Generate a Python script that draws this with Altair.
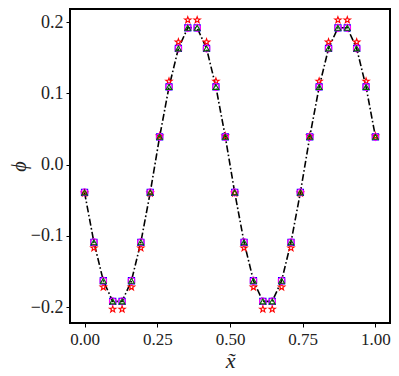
import altair as alt
import pandas as pd

# one period of the solution (16 points), two periods shown
period_base = [-0.039, -0.109, -0.163, -0.192, -0.192, -0.163, -0.109, -0.039,
               0.039, 0.109, 0.163, 0.192, 0.192, 0.163, 0.109, 0.039]
period_star = [-0.040, -0.117, -0.172, -0.203, -0.203, -0.172, -0.117, -0.040,
               0.040, 0.117, 0.172, 0.203, 0.203, 0.172, 0.117, 0.040]

x_vals = [i / 31 for i in range(32)]
line_vals = period_base + period_base
square_vals = period_base + period_base
hex_vals = period_base + period_base
tri_vals = period_base + period_base
star_vals = period_star + period_star

x_ticks = [0.0, 0.25, 0.5, 0.75, 1.0]
y_ticks = [-0.2, -0.1, 0.0, 0.1, 0.2]

df = pd.DataFrame({
    "x": x_vals, "line": line_vals, "sq": square_vals, "hx": hex_vals,
    "tri": tri_vals, "star": star_vals,
})

FONT = "Liberation Serif"
xscale = alt.Scale(domain=[-0.05, 1.05], nice=False, zero=False)
yscale = alt.Scale(domain=[-0.2223, 0.2184], nice=False, zero=False)

xaxis = alt.Axis(values=x_ticks, format=".2f", title="x̃", grid=False, domain=False,
                 tickColor="black", tickSize=4, tickWidth=1, labelFont=FONT,
                 labelFontSize=17, labelColor="#222", labelPadding=4,
                 titleFont=FONT, titleFontSize=22, titleFontStyle="italic",
                 titleFontWeight="normal", titleColor="#222", titlePadding=3)
yaxis = alt.Axis(values=y_ticks, format=".1f", title="ϕ", grid=False, domain=False,
                 tickColor="black", tickSize=4, tickWidth=1, labelFont=FONT,
                 labelFontSize=18, labelColor="#222", labelPadding=3,
                 titleFont=FONT, titleFontSize=20, titleFontStyle="italic",
                 titleFontWeight="normal", titleColor="#222", titlePadding=1)

base = alt.Chart(df)

star_path = ("M0,-1L0.235,-0.324L0.951,-0.309L0.380,0.124L0.588,0.809L0,0.4"
             "L-0.588,0.809L-0.380,0.124L-0.951,-0.309L-0.235,-0.324Z")
hex_path = "M0,-1L0.866,-0.5L0.866,0.5L0,1L-0.866,0.5L-0.866,-0.5Z"

line = base.mark_line(color="black", strokeWidth=1.6, strokeDash=[7, 2.4, 1.6, 2.4]).encode(
    x=alt.X("x:Q", scale=xscale, axis=xaxis),
    y=alt.Y("line:Q", scale=yscale, axis=yaxis),
)

def pts(col, shape, color, size):
    return base.mark_point(shape=shape, color=color, filled=False, size=size,
                           strokeWidth=1.1, opacity=1).encode(
        x=alt.X("x:Q", scale=xscale),
        y=alt.Y(f"{col}:Q", scale=yscale),
    )

chart = alt.layer(
    line,
    pts("star", star_path, "red", 45),
    pts("sq", "square", "blue", 38),
    pts("hx", hex_path, "magenta", 55),
    pts("tri", "triangle-up", "darkgreen", 32),
).properties(
    width=320, height=314,
    autosize=alt.AutoSizeParams(type="none"),
    padding={"left": 62, "top": 1, "right": 1, "bottom": 50},
).configure_view(stroke="black", strokeWidth=2)

chart.save("out.html", embed_options={"renderer": "svg", "actions": False})
